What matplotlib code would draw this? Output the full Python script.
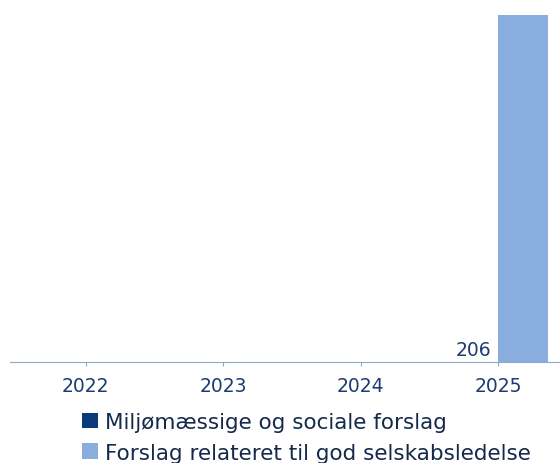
import matplotlib.pyplot as plt
import numpy as np

years = ["2022", "2023", "2024", "2025"]
miljo_social = [0, 0, 0, 0]
selskabsledelse = [0, 0, 0, 206]
series_names = ["Miljømæssige og sociale forslag", "Forslag relateret til god selskabsledelse"]

dark = "#0b3a7a"
light = "#8aade0"
text_col = "#152a4a"
tick_col = "#1d3c72"

fig = plt.figure(figsize=(5.6, 4.64), dpi=100)
ax = fig.add_axes([10 / 560, 101 / 464, 550 / 560, 347 / 464])

x = np.arange(len(years))
w = 0.36
ax.bar(x - w / 2, miljo_social, w, color=dark, label=series_names[0])
ax.bar(x + w / 2, selskabsledelse, w, color=light, label=series_names[1])

# value label for the latest year, shown left of the bar
ax.text(x[-1] - w / 2, 2, str(selskabsledelse[-1]), ha="center", va="bottom",
        fontsize=13.5, color=tick_col)

ax.set_xlim(-0.55, 3.45)
ax.set_ylim(0, 206)
ax.set_xticks(x)
ax.set_xticklabels(years, fontsize=13.5, color=tick_col)
ax.tick_params(axis="x", length=3, color="#8fa8c8", pad=7)
ax.set_yticks([])
for s in ["top", "right", "left"]:
    ax.spines[s].set_visible(False)
ax.spines["bottom"].set_color("#8fa8c8")

fig.legend(loc="upper left", bbox_to_anchor=(82 / 560, 1 - 413 / 464), frameon=False,
           fontsize=15.5, labelcolor=text_col, handlelength=0.75, handleheight=0.75,
           handletextpad=0.3, labelspacing=0.5, borderaxespad=0, borderpad=0)

fig.savefig("out.png", dpi=100)
